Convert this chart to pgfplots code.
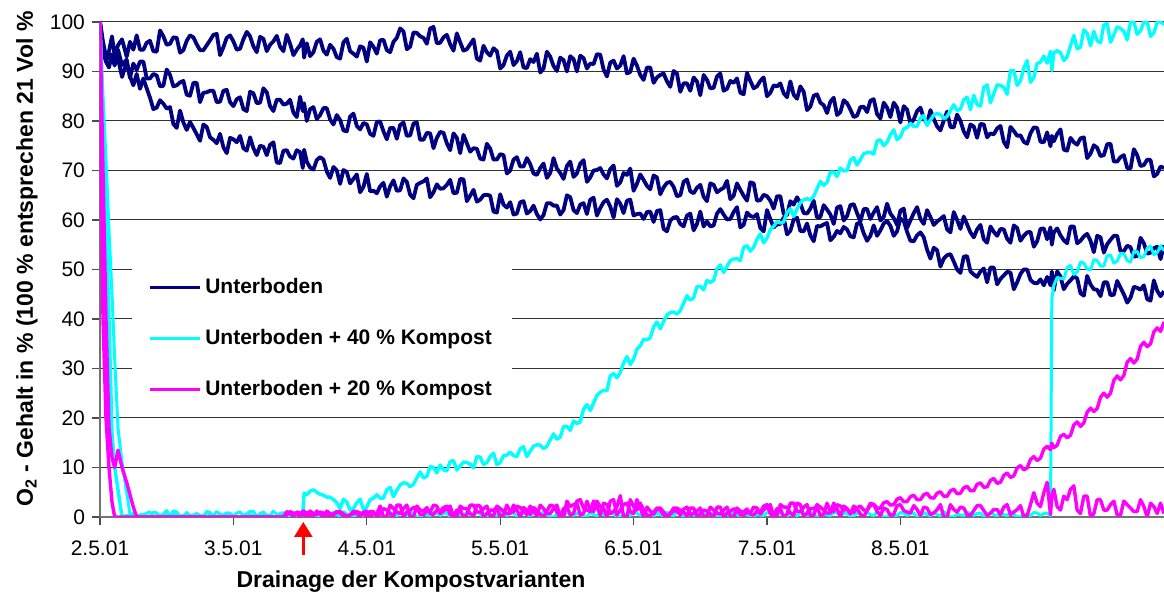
\documentclass[border=0pt]{standalone}
\usepackage{fontspec}
\setmainfont{Liberation Sans}
\usepackage{pgfplots}
\pgfplotsset{compat=1.18}
\usepackage{pgfplotstable}
\usetikzlibrary{arrows.meta}
\definecolor{navyc}{HTML}{000080}
\definecolor{cyanc}{HTML}{00FFFF}
\definecolor{magc}{HTML}{FF00FF}

\pgfplotstableread{
x n1 n2 n3 ca cb ma mb
0 100 100 100 100 100 100 100
0.0225 96 95 94 80 85 40 70
0.045 93 92 92 60 72 20 40
0.0675 94.1 93.5 90.8 40 58 10 18
0.09 97.1 93.0 93.5 17 45 3 12
0.11 93.2 91.2 91.6 10 32 0 10
0.135 95.3 94.4 92.6 5.5 18 0 13.5
0.165 96.5 91.3 88.9 0 11 0 10
0.2 93.0 92.4 91.9 0.3 5 0 7
0.225 96.0 88.7 89.0 0 0.5 0 4.5
0.25 94.4 91.6 87.2 0.8 0 0 2
0.275 97.3 90.3 89.5 0 0.3 0 0
0.3 94.4 92.0 86.5 0.4 0 0 0
0.35 95.8 88.6 86.6 0.2 0.8 0 0
0.4 94.1 89.5 82.4 0.9 0 0 0
0.45 98.3 87.0 84.2 0 0.3 0 0
0.5 95.4 90.4 82.5 0.5 1.3 0 0
0.55 96.9 87.0 79.4 1.2 0.2 0 0
0.6 93.8 87.8 82.1 0.1 0 0 0
0.65 96.2 85.3 78.2 0.6 0.9 0 0
0.7 96.9 87.7 78.6 0 0.4 0 0
0.75 94.3 83.8 76.0 0.3 0 0 0
0.8 95.3 85.8 78.8 1.0 1.1 0 0
0.85 97.4 86.1 76.2 0 0.3 0 0
0.9 93.3 83.9 77.4 0.4 0.6 0 0
0.95 96.8 86.3 73.5 0.8 0 0 0
1.0 96.1 83.0 76.3 0.1 0.2 0 0
1.05 94.6 84.8 77.0 0 1.0 0 0
1.1 98.0 82.0 74.0 0.6 0.5 0 0
1.15 95.1 85.6 74.5 1.1 0 0 0
1.2 97.0 83.7 75.0 0.2 0.7 0 0
1.25 94.1 85.8 73.1 0.4 0.2 0 0
1.3 96.1 82.0 75.7 0 1.2 0 0
1.35 95.0 84.3 71.5 0.7 0.1 0 0
1.4 97.4 83.5 74.1 0.3 0.4 0.4 1.1
1.45 93.3 81.7 72.4 1.0 0.9 0.7 0.1
1.5 95.3 84.9 73.7 0.2 0 0 0.8
1.52 96.5 82.0 70.5 0.5 0.4 1.2 0.4
1.53 92.8 83.6 74.2 4.8 0.9 0.5 1.2
1.55 95.7 80.0 71.8 4.5 0.3 1.0 0
1.6 93.9 82.8 70.2 5.5 0.8 0.2 0.7
1.65 96.5 81.2 72.7 4.6 0.1 0.6 1.0
1.7 93.4 82.6 69.8 4.0 0.5 1.2 0.2
1.75 94.6 79.3 70.7 3.5 1.0 0.4 0.6
1.8 92.6 80.2 67.3 1.7 0.2 0.8 1.1
1.85 96.6 77.9 69.7 3.0 0.6 0 0.1
1.9 93.6 81.5 68.3 1.7 0 1.1 0.7
1.95 95.1 78.3 65.6 3.6 0.4 0.8 0.2
2.0 92.0 79.3 69.3 2.0 0.9 0.1 1.2
2.05 95.0 77.0 65.9 3.8 0.3 1.1 0.5
2.1 96.3 79.9 66.8 3.8 0.8 0.7 2.2
2.15 94.3 76.3 64.7 5.5 0.1 1.4 0.2
2.2 96.0 78.6 68.0 4.1 0.5 0 1.7
2.25 98.7 79.2 66.0 6.5 1.0 2.4 0.7
2.3 94.5 77.0 67.7 6.8 0.2 1.0 2.4
2.35 97.9 79.5 64.4 6.6 0.6 1.9 0
2.4 97.1 76.2 67.5 9.1 0 0.5 1.4
2.45 95.6 77.6 68.4 8.2 0.4 1.2 1.9
2.5 99.0 74.5 65.6 10.0 0.9 2.4 0.5
2.55 95.8 77.8 66.3 10.5 0.3 0.7 1.2
2.6 97.4 75.5 67.1 9.3 0.8 1.7 2.2
2.65 94.2 77.5 65.4 11.4 0.1 0 0.2
2.7 95.9 73.5 68.3 10.3 0.5 2.2 1.4
2.75 94.5 75.5 63.8 11.0 1.0 1.7 0.5
2.8 96.5 74.5 66.1 9.9 0.2 0.2 2.4
2.85 92.2 72.4 64.1 12.1 0.6 2.2 1.0
2.9 93.9 75.4 65.1 11.0 0 0.7 2.2
2.95 94.7 72.2 61.7 12.9 0.4 1.4 0.2
3.0 90.6 73.3 65.2 11.0 0.9 0 1.7
3.05 93.2 69.4 62.5 12.5 0.3 2.4 0.7
3.1 91.3 72.2 61.1 12.4 0.8 1.0 2.4
3.15 93.9 70.8 63.6 13.8 0.1 1.9 0
3.2 90.7 72.5 61.3 12.2 0.5 0.5 1.4
3.25 91.9 69.4 62.9 14.3 1.0 1.2 1.9
3.3 89.8 70.5 60.1 14.5 0.2 2.4 0.5
3.35 94.0 68.5 63.4 14.3 0.6 0.7 1.2
3.4 91.1 72.5 62.9 16.8 0 1.7 2.2
3.45 92.8 69.5 61.1 16.1 0.4 0 0.2
3.5 90.0 70.9 65.0 18.3 0.9 3.2 2.1
3.55 92.5 68.7 62.0 19.4 0.3 2.5 0.7
3.6 93.2 71.4 63.1 19.2 0.8 0.4 3.5
3.65 90.6 67.7 61.2 22.7 0.1 3.2 1.4
3.7 91.5 70.0 64.5 23.0 0.5 1.1 3.2
3.75 93.4 70.5 62.4 25.2 1.0 2.1 0.4
3.8 89.0 68.4 64.1 25.5 0.2 0 2.5
3.85 92.2 71.0 60.5 29.0 0.6 3.5 1.1
3.9 91.2 67.6 63.3 29.2 0 1.4 4.3
3.95 89.6 69.1 63.9 32.4 0.4 2.8 0
4.0 92.6 65.9 60.9 31.9 0.9 0.7 2.1
4.05 89.3 69.2 61.3 34.6 0.3 1.8 2.8
4.1 90.8 66.9 61.6 35.8 0.8 2.0 0.4
4.15 87.7 69.0 59.6 38.4 0.1 0.6 1.0
4.2 89.3 65.2 62.0 38.0 0.5 1.4 1.8
4.25 88.0 67.5 57.7 40.8 1.0 0 0.2
4.3 90.1 66.7 60.5 41.4 0.2 1.8 1.2
4.35 85.9 65.0 59.2 41.7 0.6 1.4 0.4
4.4 87.6 68.2 60.9 44.7 0 0.2 2.0
4.45 88.8 65.4 57.9 44.3 0.4 1.8 0.8
4.5 85.2 67.1 61.7 46.6 0.9 0.6 1.8
4.55 88.3 63.8 59.7 47.8 0.3 1.2 0.2
4.6 86.7 67.1 58.9 47.8 0.8 0 1.4
4.65 89.6 66.1 62.2 50.9 0.1 2.0 0.6
4.7 86.5 67.9 60.1 50.6 0.5 0.8 2.0
4.75 87.7 64.9 61.6 52.1 1.0 1.6 0
4.8 85.7 66.1 58.5 51.8 0.2 0.4 1.2
4.85 89.7 63.9 61.5 54.8 0.6 1.0 1.6
4.9 86.6 67.4 60.6 54.5 0 2.0 0.4
4.95 88.1 64.0 58.4 57.2 0.4 0.6 1.0
5.0 85.0 64.8 62.0 56.3 0.9 2.0 2.5
5.05 87.2 62.3 58.5 58.7 0.3 0 0.3
5.1 87.6 64.8 59.2 59.4 0.8 2.5 1.7
5.15 84.8 61.0 57.1 61.5 0.1 2.0 0.6
5.2 85.3 63.1 60.1 60.7 0.5 0.3 2.8
5.25 87.0 63.4 57.8 63.5 1.0 2.5 1.1
5.3 82.2 61.3 59.3 64.3 0.2 0.8 2.5
5.35 85.1 63.9 55.7 64.8 0.6 1.7 0.3
5.4 83.7 60.6 58.7 67.8 0 0.2 2.0
5.45 81.6 62.1 59.4 67.6 0.4 2.8 0.8
5.5 84.7 59.2 56.6 69.7 0.9 1.1 2.8
5.55 81.8 62.8 57.3 70.5 0.3 2.2 0
5.6 83.6 60.8 58.1 70.0 0.8 1.5 1.7
5.65 80.8 63.2 56.5 72.6 0.1 0.9 2.2
5.7 82.8 59.7 59.4 72.2 0.5 2.2 0.6
5.75 81.8 62.2 55.8 73.6 1.0 1.3 1.4
5.8 84.4 61.5 58.9 73.3 0.2 2.6 2.5
5.85 80.5 59.9 57.9 76.2 0.6 1.8 0.3
5.9 82.7 63.3 59.8 75.7 0 3.1 1.5
5.95 83.7 60.4 56.8 78.2 0.4 2.5 0.5
6.0 79.7 61.9 60.3 76.8 0.9 3.9 2.5
6.05 82.3 58.4 57.6 78.7 0.3 3.1 1.0
6.1 80.3 61.4 55.7 78.9 0.8 4.4 2.3
6.15 82.7 60.2 57.5 80.6 0.1 3.5 0.3
6.2 79.4 62.0 54.0 79.1 0.5 4.8 1.8
6.25 80.4 59.0 54.4 81.2 1.0 3.8 0.8
6.3 78.1 60.2 50.6 81.3 0.2 5.1 2.5
6.35 81.9 58.1 52.9 80.9 0.6 4.2 0
6.4 78.7 61.6 51.6 83.3 0 5.6 1.5
6.45 80.0 58.2 49.3 82.4 0.4 4.8 2.0
6.5 76.7 59.1 52.7 84.8 0.9 6.2 0.5
6.55 78.9 56.5 49.0 85.2 0.3 5.3 1.3
6.6 79.4 59.0 49.6 83.0 0.8 6.9 2.3
6.65 76.7 55.4 47.4 87.3 0.1 6.1 0.3
6.7 77.3 57.6 50.4 85.5 0.5 7.8 1.5
6.75 79.0 58.2 48.1 87.2 1.0 7.0 0.5
6.8 74.7 56.2 49.5 85.4 0.2 8.9 2.5
6.85 78.0 58.9 46.0 90.2 0.6 8.3 1.0
6.9 77.1 55.8 49.1 88.1 0 10.4 2.3
6.95 75.4 57.5 50.0 92.2 0.4 9.9 0.3
7.0 78.7 54.6 47.3 88.8 0.9 12.2 4.9
7.05 75.8 58.2 48.0 91.9 0.3 11.9 2.1
7.1 77.7 56.1 48.5 91.7 0.8 14.3 7.0
7.125 74.9 58.5 46.8 94.1 0.3 13.6 0.5
7.135 77.0 55.0 49.6 90.2 44.0 14.9 4.2
7.15 75.9 57.5 45.8 93.8 46.8 14.0 5.6
7.2 78.3 56.9 48.6 93.8 48.2 16.3 1.4
7.25 74.0 55.3 47.1 93.0 50.4 16.0 3.5
7.3 75.7 58.7 48.6 97.3 49.0 18.6 6.3
7.35 76.5 55.8 45.2 94.9 51.5 18.3 0.7
7.4 72.5 57.2 48.7 97.7 50.1 21.2 4.2
7.45 75.1 53.5 46.0 98.1 52.0 21.3 0.7
7.5 72.9 56.5 44.6 95.8 50.7 24.2 3.5
7.55 75.3 55.1 47.4 99.7 52.8 24.2 1.4
7.6 71.8 56.8 44.9 97.4 51.3 27.6 3.2
7.65 72.7 53.7 46.3 98.7 53.2 27.7 0.4
7.7 70.5 54.8 43.3 96.4 51.8 31.3 2.5
7.75 74.3 52.6 46.5 100 53.7 31.1 1.1
7.8 70.9 56.4 45.9 98.2 52.4 34.5 3.5
7.85 72.2 53.2 44.0 100 54.3 34.4 0
7.9 68.8 54.3 47.8 97.8 53.0 37.4 2.1
7.95 70.8 52.1 44.6 100 54.8 37.5 2.8
7.976 70.5 54.9 45.6 99.5 53.8 39.4 0.7
}\gridtable

\pgfplotstableread{
x n1 n2 n3 ca cb ma mb
0.325 94.4 92.0 88.6 0.5 0.4 0 0
0.375 96.2 88.6 84.7 0 1.0 0 0
0.425 94.0 89.2 82.7 0.8 0 0 0
0.475 97.1 87.1 83.5 0.2 0.6 0 0
0.525 95.6 89.3 82.8 0 0.2 0 0
0.575 96.8 87.2 78.6 1.0 0.9 0 0
0.625 94.3 88.1 79.7 0.3 0 0 0
0.675 97.3 85.1 79.8 0 0.3 0 0
0.725 95.5 87.7 77.3 0.6 0.7 0 0
0.775 94.3 85.7 79.3 0.1 0 0 0
0.825 96.3 86.1 76.7 0.9 0.5 0 0
0.875 97.6 83.8 75.5 0 1.1 0 0
0.925 94.9 86.1 74.7 0.4 0.1 0 0
0.975 97.3 83.8 76.6 0.7 0 0 0
1.025 94.4 84.4 75.7 0 0.8 0 0
1.075 96.5 82.4 74.5 0.3 0.3 0 0
1.125 97.1 85.9 76.7 1.1 0.6 0 0
1.175 93.9 83.6 73.1 0 0 0 0
1.225 96.6 86.6 74.8 0.5 1.0 0 0
1.275 95.4 83.0 75.2 0.2 0.2 0 0
1.325 97.2 84.3 71.6 0 0.5 0 0
1.375 94.1 83.3 74.0 0.8 0 0 0
1.425 95.6 84.3 72.8 0.1 0.7 1.1 0.7
1.475 94.4 80.8 74.1 0.6 0.3 0.6 1.0
1.575 93.1 82.4 70.6 5.2 0.7 0.4 1.2
1.625 96.0 80.4 72.1 5.0 0 1.2 0.5
1.675 94.2 82.6 72.2 4.4 0.9 0 0.8
1.725 95.4 80.3 68.5 4.0 0.2 0.7 0.1
1.775 92.9 81.2 70.0 2.9 0.5 1.0 1.1
1.825 95.9 78.1 70.1 3.6 1.1 0.2 0.6
1.875 94.1 80.9 67.4 1.4 0 0.5 0.4
1.925 93.0 79.0 69.2 2.9 0.6 1.1 0.7
1.975 94.8 79.6 66.7 1.5 0.3 0.6 1.0
2.025 95.9 77.4 65.8 3.5 0.8 1.1 0.2
2.075 93.6 79.8 65.4 4.5 0.7 0.1 0.7
2.125 96.4 77.9 67.5 3.8 0 1.7 0
2.175 93.9 78.6 66.8 6.0 0.9 0.7 2.4
2.225 96.8 76.4 65.9 5.4 0.2 2.4 1.0
2.275 98.1 79.7 68.4 6.9 0.5 0 1.7
2.325 95.0 77.1 65.1 6.1 1.1 1.4 0.2
2.375 97.8 79.7 67.1 7.9 0 1.9 2.2
2.425 96.8 76.2 67.8 7.9 0.6 0.5 1.2
2.475 98.7 77.5 64.6 10.2 0.3 1.0 0.7
2.525 95.7 76.6 67.2 8.9 0.8 2.2 1.4
2.575 96.9 77.6 66.4 9.5 0.7 1.2 1.9
2.625 95.5 74.1 68.1 11.2 0 2.2 0.5
2.675 97.7 76.6 65.5 9.5 0.9 0.2 1.4
2.725 94.2 77.2 68.2 11.1 0.2 1.7 0
2.775 95.5 73.8 64.9 10.7 0.5 0.7 2.4
2.825 92.6 74.4 63.7 12.2 1.1 2.4 1.0
2.875 95.2 72.2 65.0 10.6 0 0 1.7
2.925 93.2 74.4 64.9 12.2 0.6 1.4 0.2
2.975 94.1 72.2 61.5 10.6 0.3 1.9 2.2
3.025 91.3 73.1 63.1 12.4 0.8 0.5 1.2
3.075 94.0 70.0 63.6 13.1 0.7 1.0 0.7
3.125 92.1 72.7 61.3 12.2 0 2.2 1.4
3.175 90.8 70.8 63.8 14.2 0.9 1.2 1.9
3.225 92.5 71.3 61.8 13.3 0.2 2.2 0.5
3.275 93.6 69.1 61.2 14.6 0.5 0.2 1.4
3.325 90.6 71.4 61.0 13.8 1.1 1.7 0
3.375 93.0 69.5 63.4 15.6 0 0.7 2.4
3.425 90.1 70.4 62.9 15.7 0.6 2.4 1.0
3.475 92.3 68.3 62.0 18.3 0.3 0 1.7
3.525 93.1 71.8 64.6 17.5 0.8 2.1 0.4
3.575 90.0 69.4 61.4 18.9 0.7 2.8 3.2
3.625 92.7 72.1 63.4 21.8 0 0.7 1.8
3.675 91.6 68.6 64.1 21.5 0.9 1.4 1.1
3.725 93.5 70.1 60.9 24.6 0.2 3.2 2.1
3.775 90.4 69.2 63.6 25.6 0.5 1.8 2.8
3.825 91.8 70.3 62.7 28.5 1.1 3.2 0.7
3.875 90.6 66.9 64.2 28.1 0 0.4 2.1
3.925 93.1 69.5 61.4 31.1 0.6 2.5 0
3.975 89.9 70.4 64.1 30.8 0.3 1.1 3.5
4.025 91.2 67.3 61.2 33.9 0.8 3.5 1.4
4.075 88.3 68.1 60.2 35.9 0.7 0 1.4
4.125 90.8 66.2 61.7 36.2 0 1.2 0.2
4.175 88.8 68.6 61.8 39.4 0.9 1.6 1.8
4.225 89.6 66.6 58.2 39.5 0.2 0.4 1.0
4.275 86.9 67.7 59.9 41.3 0.5 0.8 0.6
4.325 89.6 64.8 60.6 41.0 1.1 1.8 1.2
4.375 87.6 67.7 58.7 43.2 0 1.0 1.6
4.425 86.1 65.8 61.3 43.8 0.6 1.8 0.4
4.475 88.0 66.5 59.2 46.5 0.3 0.2 1.2
4.525 89.3 64.7 58.7 45.9 0.8 1.4 0
4.575 86.6 67.4 58.7 47.4 0.7 0.6 2.0
4.625 89.0 65.6 61.3 50.2 0 2.0 0.8
4.675 86.1 66.5 61.1 49.4 0.9 0 1.4
4.725 88.1 64.2 60.2 51.8 0.2 1.2 0.2
4.775 88.6 67.4 62.6 52.2 0.5 1.6 1.8
4.825 85.4 64.9 59.0 54.5 1.1 0.4 1.0
4.875 88.1 67.6 60.8 53.7 0 0.8 0.6
4.925 87.0 63.9 61.2 56.1 0.6 1.8 1.2
4.975 88.8 65.1 57.7 55.4 0.3 1.4 2.2
5.025 85.7 63.9 60.2 58.1 0.8 2.5 0.6
5.075 87.0 64.8 59.1 59.7 0.7 0.3 1.7
5.125 85.6 61.2 60.5 59.6 0 2.0 0
5.175 88.0 63.8 57.8 62.3 0.9 0.8 2.8
5.225 84.5 64.6 60.5 62.2 0.2 2.8 1.1
5.275 85.9 61.4 57.7 64.1 0.5 0 2.0
5.325 82.9 62.3 56.9 64.0 1.1 1.7 0.3
5.375 85.4 60.5 58.8 66.3 0 2.2 2.5
5.425 83.2 63.0 59.1 67.0 0.6 0.6 1.4
5.475 83.9 61.1 55.9 69.7 0.3 1.1 0.8
5.525 81.2 62.5 57.8 68.8 0.8 2.5 1.7
5.575 84.2 59.9 58.6 69.9 0.7 1.4 2.2
5.625 82.3 63.0 56.7 72.1 0 1.0 0.6
5.675 81.1 61.4 59.3 71.1 0.9 1.9 1.7
5.725 82.9 62.2 57.3 73.4 0.2 1.4 0
5.775 84.1 60.2 56.8 73.7 0.5 2.3 2.8
5.825 81.4 62.6 56.8 76.0 1.1 1.8 1.1
5.875 83.7 60.6 59.3 75.0 0 2.9 1.8
5.925 80.8 61.3 58.8 77.2 0.6 2.4 0.3
5.975 82.7 59.0 57.7 76.2 0.3 3.6 2.3
6.025 83.0 62.3 59.8 78.4 0.8 3.1 1.3
6.075 79.5 59.9 55.8 79.5 0.7 4.1 0.8
6.125 82.0 62.6 56.9 78.9 0 3.5 1.5
6.175 80.6 59.2 56.5 81.1 0.9 4.5 2.0
6.225 82.2 60.6 52.2 80.2 0.2 3.9 0.5
6.275 78.9 59.7 53.9 81.5 0.5 4.8 1.5
6.325 80.1 60.8 52.2 80.5 1.1 4.2 0
6.375 78.8 57.5 53.1 82.1 0 5.3 2.5
6.425 81.3 60.0 50.0 82.1 0.6 4.7 1.0
6.475 77.9 60.7 52.6 84.3 0.3 5.9 1.8
6.525 79.3 57.5 49.6 82.3 0.8 5.3 0.3
6.575 76.6 58.1 48.5 83.3 0.7 6.6 2.3
6.625 79.3 56.1 50.2 86.8 0 6.0 1.3
6.675 77.5 58.7 50.4 83.7 0.9 7.4 0.8
6.725 78.5 56.8 47.0 87.3 0.2 6.8 1.5
6.775 75.8 58.1 48.8 86.8 0.5 8.4 2.0
6.825 78.8 55.4 49.4 90.2 1.1 8.0 0.5
6.875 77.0 58.4 47.4 87.2 0 9.9 1.5
6.925 75.8 56.8 50.0 90.7 0.6 9.5 0
6.975 77.5 57.6 47.9 87.8 0.3 11.6 2.5
7.025 78.6 55.7 47.2 91.6 0.8 11.4 2.8
7.075 75.7 58.3 46.8 93.1 0.7 13.7 4.9
7.175 77.4 58.3 49.6 94.2 48.4 14.5 2.1
7.225 74.2 55.9 46.0 92.2 48.1 16.7 4.2
7.275 76.6 58.7 47.8 95.2 50.8 16.5 5.6
7.325 75.2 55.3 48.2 94.6 49.5 19.2 1.4
7.375 76.7 56.7 44.7 98.4 51.3 19.0 4.2
7.425 73.4 55.8 47.0 95.2 49.9 22.0 0
7.475 74.6 56.8 45.9 96.2 51.8 21.9 3.5
7.525 73.1 53.4 47.4 99.4 50.7 25.0 1.4
7.575 75.4 56.0 44.8 95.9 52.9 25.0 2.5
7.625 71.8 56.8 47.7 99.0 51.7 28.5 0.4
7.675 73.1 53.7 45.0 98.1 53.2 28.6 3.2
7.725 70.4 54.5 44.3 100 51.5 32.0 1.8
7.775 73.1 52.7 46.3 97.5 53.6 31.9 1.1
7.825 71.1 55.3 46.8 100 52.6 35.3 2.1
7.875 72.1 53.4 43.7 97.1 54.7 35.0 2.8
7.925 69.3 54.6 45.7 100 53.4 38.2 0.7
}\midtable

\pgfplotstablevertcat{\gridtable}{\midtable}
\pgfplotstablesort[sort key=x, sort cmp=float <]{\datatable}{\gridtable}

\begin{document}
\begin{tikzpicture}
\begin{axis}[
  scale only axis, width=532pt, height=247.5pt,
  xmin=0, xmax=7.976, ymin=0, ymax=100,
  axis lines=left, axis line style={-, draw=black!55, line width=1pt},
  xtick={0,1,2,3,4,5,6},
  xticklabels={2.5.01,3.5.01,4.5.01,5.5.01,6.5.01,7.5.01,8.5.01},
  ytick={0,10,...,100},
  ymajorgrids, grid style={black!80, line width=0.5pt},
  tick align=outside, major tick length=4pt,
  tick style={black!70, line width=0.6pt},
  /pgf/number format/assume math mode=true,
  ticklabel style={font=\fontsize{10.5}{12}\selectfont},
  xticklabel style={yshift=-4.5pt},
  xlabel={Drainage der Kompostvarianten},
  xlabel style={at={(axis description cs:0.2923,-0.1434)}, anchor=base, font=\bfseries\fontsize{11.5}{13}\selectfont},
  ylabel={O\textsubscript{2} - Gehalt in \% (100 \% entsprechen 21 Vol \%},
  ylabel style={at={(axis description cs:-0.0686,0.521)}, anchor=center, font=\bfseries\fontsize{11.5}{13}\selectfont},
  legend style={at={(axis description cs:0.030,0.515)}, anchor=north west, draw=none, fill=white, font=\bfseries\fontsize{10.5}{12}\selectfont, row sep=12.25pt, inner xsep=8pt, inner ysep=6pt},
  legend cell align=left,
  legend image code/.code={\draw[#1, line width=1.5pt] (0pt,0pt) -- (25pt,0pt);},
]
\addplot[navyc, line width=1.9pt, line join=round] table[x=x,y=n1]{\datatable};
\addlegendentry{Unterboden}
\addplot[navyc, line width=1.9pt, line join=round, forget plot] table[x=x,y=n2]{\datatable};
\addplot[navyc, line width=1.9pt, line join=round, forget plot] table[x=x,y=n3]{\datatable};
\addplot[cyanc, line width=1.7pt, line join=round] table[x=x,y=ca]{\datatable};
\addlegendentry{Unterboden + 40 \% Kompost}
\addplot[cyanc, line width=1.5pt, line join=round, forget plot] table[x=x,y=cb]{\datatable};
\addplot[magc, line width=1.7pt, line join=round] table[x=x,y=ma]{\datatable};
\addlegendentry{Unterboden + 20 \% Kompost}
\addplot[magc, line width=1.7pt, line join=round, forget plot] table[x=x,y=mb]{\datatable};
\coordinate (bl) at (rel axis cs:0,0);
\coordinate (tr) at (rel axis cs:1,1);
\coordinate (atail) at (axis cs:1.524,-7.7);
\coordinate (atip) at (axis cs:1.524,-1.0);
\end{axis}
\draw[red, line width=1.2pt, -{Triangle[width=9pt,length=7.5pt]}] (atail) -- (atip);
\pgfresetboundingbox
\path[use as bounding box] ([shift={(-50pt,-37.5pt)}]bl) rectangle ([shift={(0pt,11pt)}]tr);
\end{tikzpicture}
\end{document}
